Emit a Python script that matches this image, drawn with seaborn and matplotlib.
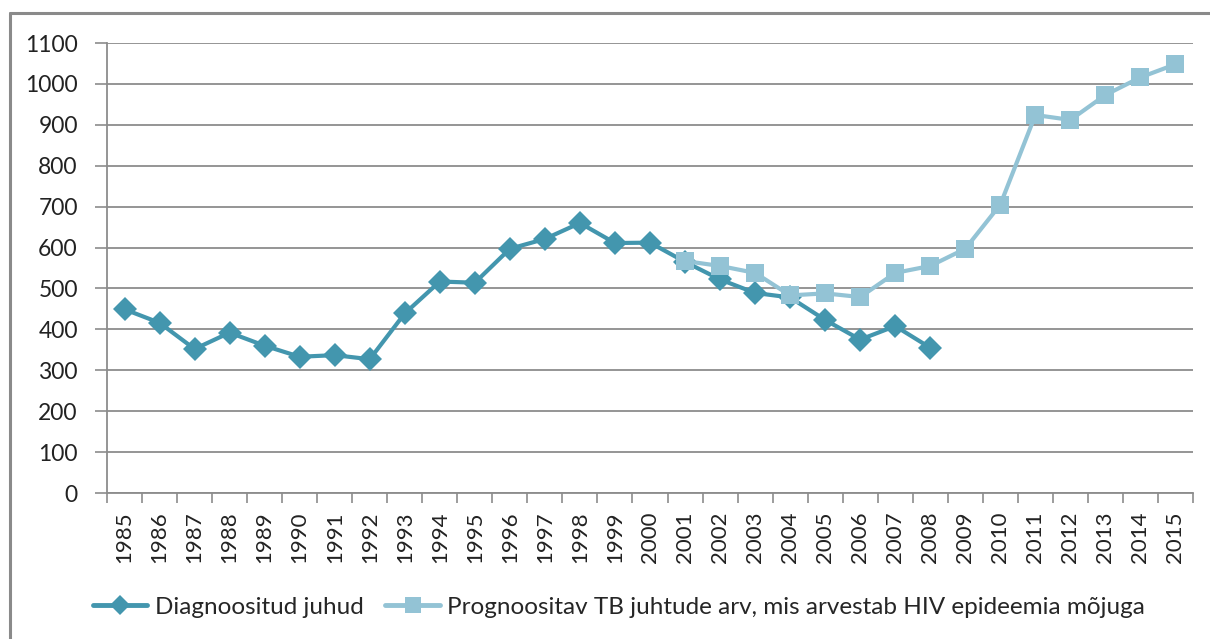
import matplotlib
matplotlib.use("Agg")
import matplotlib.pyplot as plt
import matplotlib.lines as mlines
import seaborn as sns
import numpy as np
import pandas as pd

years = [str(y) for y in range(1985, 2016)]
diagnosed = [449, 416, 352, 392, 360, 333, 337, 327, 439, 517, 514, 597, 621, 660,
             611, 612, 565, 522, 489, 478, 423, 375, 408, 355]
forecast_years = years[16:]
forecast = [567, 555, 538, 483, 488, 479, 538, 555, 597, 705, 924, 912, 973, 1016, 1048]
y_ticks = list(range(0, 1101, 100))

label_diag = "Diagnoositud juhud"
label_fc = "Prognoositav TB juhtude arv, mis arvestab HIV epideemia mõjuga"

dark = "#4396AE"
light = "#93C3D5"
grid_c = "#8C8C8C"

sns.set_theme(style="white")
plt.rcParams['font.family'] = ['Lato', 'DejaVu Sans']

df_d = pd.DataFrame({"pos": [years.index(y) for y in years[:len(diagnosed)]], "value": diagnosed})
df_f = pd.DataFrame({"pos": [years.index(y) for y in forecast_years], "value": forecast})

fig = plt.figure(figsize=(12.10, 6.39), dpi=100)
ax = fig.add_axes([107/1210, 1-493/639, (1193-107)/1210, (493-43)/639])

sns.lineplot(data=df_d, x="pos", y="value", ax=ax, color=dark, lw=3.0,
             marker="D", markersize=12.5, markeredgewidth=0, zorder=3)
sns.lineplot(data=df_f, x="pos", y="value", ax=ax, color=light, lw=3.0,
             marker="s", markersize=13, markeredgewidth=0, zorder=4)

ax.set_xlim(-0.5, len(years)-0.5)
ax.set_ylim(0, 1100)
ax.set_yticks(y_ticks)
ax.set_yticklabels([str(v) for v in y_ticks], fontsize=16.5, color="#222222")
ax.set_xticks(range(len(years)))
ax.set_xticklabels(years, rotation=90, fontsize=16, color="#222222")
ax.set_xticks(np.arange(-0.5, len(years), 1.0), minor=True)
ax.tick_params(axis="x", which="major", length=0, pad=13)
ax.tick_params(axis="x", which="minor", length=7, width=1.2, color=grid_c, bottom=True)
ax.tick_params(axis="y", which="major", length=9, width=1.2, color=grid_c, left=True, pad=12)
ax.set_xlabel("")
ax.set_ylabel("")
ax.grid(axis="y", color=grid_c, lw=1.3)
ax.grid(axis="x", visible=False)
for s in ["top", "right"]:
    ax.spines[s].set_visible(False)
for s in ["left", "bottom"]:
    ax.spines[s].set_color(grid_c)
    ax.spines[s].set_linewidth(1.3)

h1 = mlines.Line2D([], [], color=dark, lw=3.5, marker="D", markersize=10, markeredgewidth=0)
h2 = mlines.Line2D([], [], color=light, lw=3.5, marker="s", markersize=12, markeredgewidth=0)
fig.legend([h1, h2], [label_diag, label_fc], loc="center", bbox_to_anchor=(619/1210, 1-607/639),
           ncol=2, frameon=False, fontsize=17.5, handlelength=2.25, handletextpad=0.3,
           columnspacing=0.9, borderpad=0, borderaxespad=0)

# outer frame (top and left edges)
fig.add_artist(mlines.Line2D([10/1210, 1.0], [1-13/639, 1-13/639], transform=fig.transFigure,
                             color="#8A8A8A", lw=2.2))
fig.add_artist(mlines.Line2D([10/1210, 10/1210], [0, 1-13/639], transform=fig.transFigure,
                             color="#8A8A8A", lw=2.2))

fig.savefig("out.png", dpi=100)
